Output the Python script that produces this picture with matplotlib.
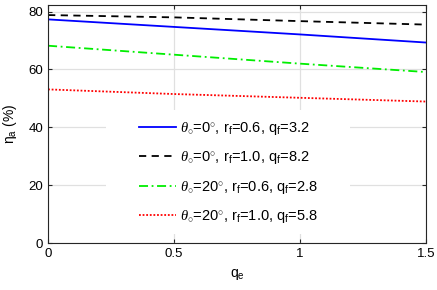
import numpy as np
import matplotlib
matplotlib.use("Agg")
import matplotlib.pyplot as plt
from matplotlib.patches import Rectangle

plt.rcParams['font.family'] = ['Liberation Sans', 'DejaVu Sans']
plt.rcParams['mathtext.fontset'] = 'custom'
plt.rcParams['mathtext.rm'] = 'Liberation Sans'
plt.rcParams['mathtext.it'] = 'Liberation Serif:italic'

qe = [0.0, 0.5, 1.0, 1.5]
eta_0_06 = [77.3, 74.7, 72.1, 69.3]
eta_0_10 = [78.8, 78.0, 76.7, 75.5]
eta_20_06 = [68.2, 65.1, 62.0, 59.1]
eta_20_10 = [53.1, 51.5, 50.2, 48.9]

labels = [r'$\it{\theta}_{\circ}$=0$^{\circ}$, r$_{\rm f}$=0.6, q$_{\rm f}$=3.2',
          r'$\it{\theta}_{\circ}$=0$^{\circ}$, r$_{\rm f}$=1.0, q$_{\rm f}$=8.2',
          r'$\it{\theta}_{\circ}$=20$^{\circ}$, r$_{\rm f}$=0.6, q$_{\rm f}$=2.8',
          r'$\it{\theta}_{\circ}$=20$^{\circ}$, r$_{\rm f}$=1.0, q$_{\rm f}$=5.8']

fig = plt.figure(figsize=(4.37, 2.90), dpi=100)
ax = fig.add_axes([0.110, 0.162, 0.865, 0.821])

ax.plot(qe, eta_0_06, color='#0000ff', linestyle='-', linewidth=1.3, label=labels[0])
ax.plot(qe, eta_0_10, color='black', linestyle=(0, (4, 3)), linewidth=1.3, label=labels[1])
ax.plot(qe, eta_20_06, color='#00ee00', linestyle=(0, (5, 2, 1, 2)), linewidth=1.3, label=labels[2])
ax.plot(qe, eta_20_10, color='#ff0000', linestyle=(0, (1, 1)), linewidth=1.3, label=labels[3])

ax.set_xlim(0, 1.5)
ax.set_ylim(0, 82.3)
ax.set_xticks([0, 0.5, 1, 1.5])
ax.set_xticklabels(['0', '0.5', '1', '1.5'])
ax.set_yticks([0, 20, 40, 60, 80])
ax.grid(True, color='#e0e0e0', linewidth=0.9)
ax.set_axisbelow(True)
ax.tick_params(direction='in', top=True, right=True, labelsize=9.5, colors='#262626',
               length=3, labelcolor='black')
for s in ax.spines.values():
    s.set_color('#262626')
    s.set_linewidth(0.8)

ax.set_xlabel('q$_{\\rm e}$', fontsize=10, labelpad=5)
ax.set_ylabel('η$_{\\rm a}$ (%)', fontsize=10, labelpad=7)

# white legend box (MATLAB style, wider than the entries)
ax.add_patch(Rectangle((0.153, 0.038), 0.646, 0.521, transform=ax.transAxes,
                       facecolor='white', edgecolor='none', zorder=2.5))
leg = ax.legend(loc='lower left', bbox_to_anchor=(0.203, 0.014), fontsize=10.5,
                frameon=False, handlelength=2.5, handletextpad=0.3,
                labelspacing=0.85, borderpad=0.5)

fig.savefig('out.png', dpi=100)
